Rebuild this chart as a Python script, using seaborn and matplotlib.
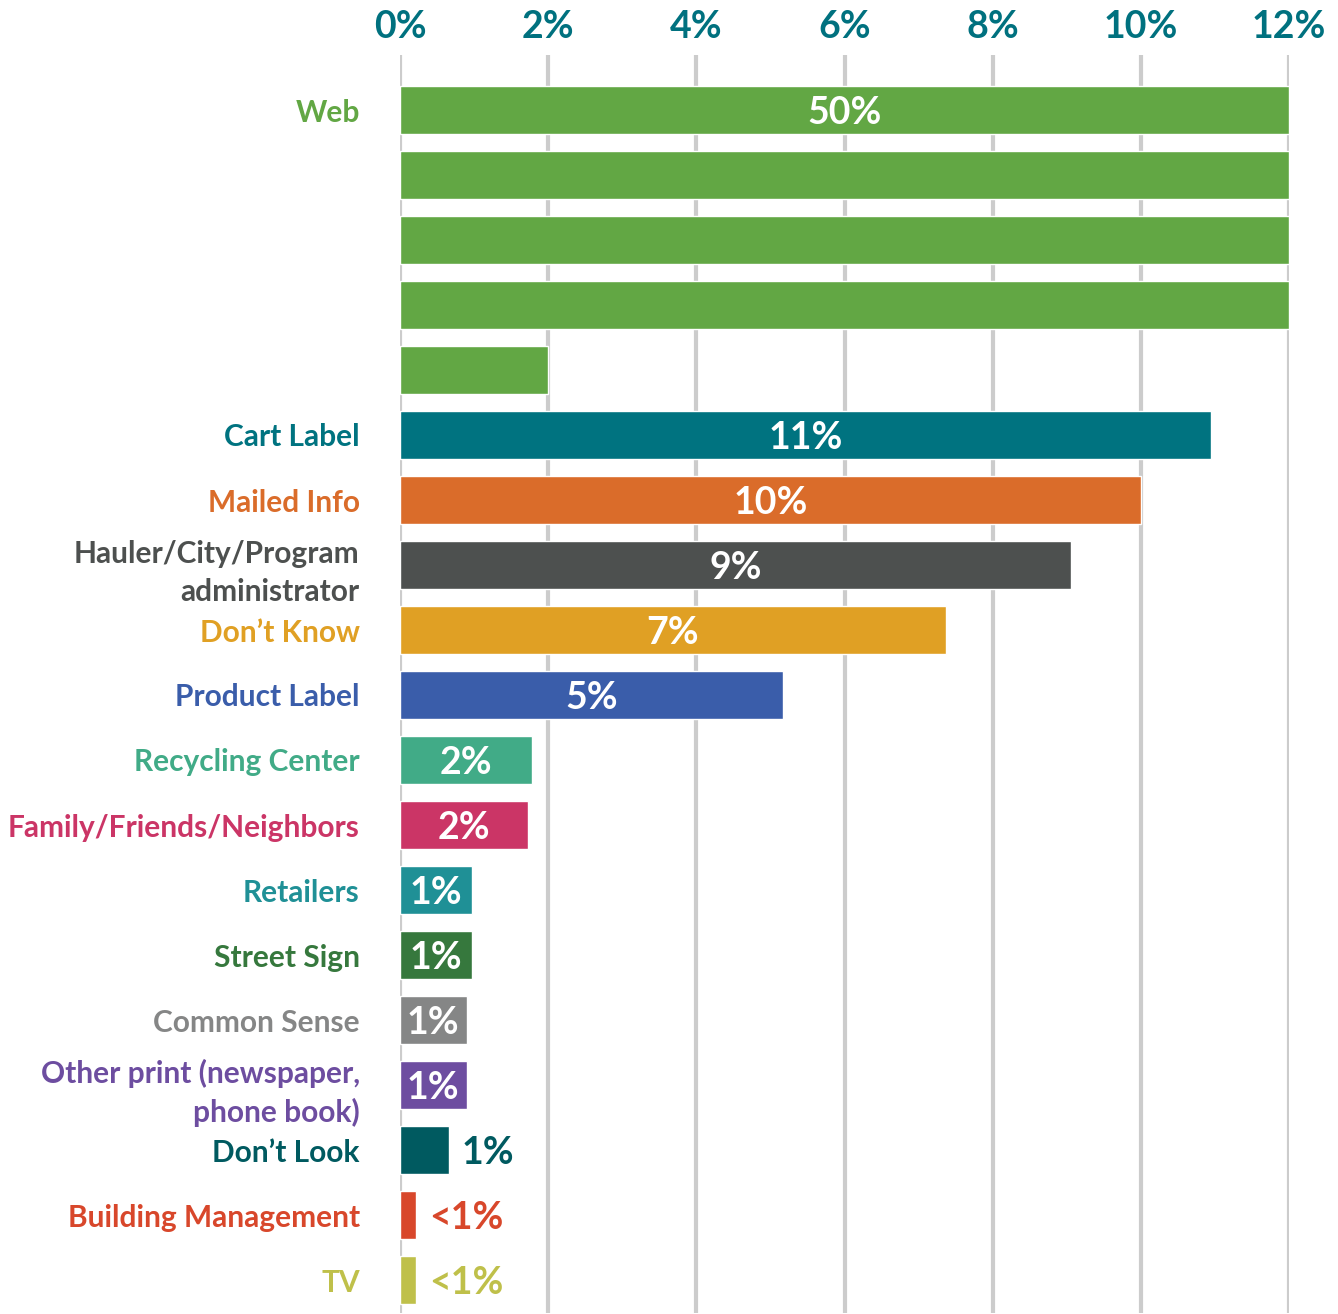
import matplotlib
matplotlib.use("Agg")
import matplotlib.pyplot as plt
import seaborn as sns
import pandas as pd

# ---- data ----
categories = ["Web", "Cart Label", "Mailed Info", "Hauler/City/Program\nadministrator",
              "Don\u2019t Know", "Product Label", "Recycling Center", "Family/Friends/Neighbors",
              "Retailers", "Street Sign", "Common Sense", "Other print (newspaper,\nphone book)",
              "Don\u2019t Look", "Building Management", "TV"]
values = [50, 10.95, 10.0, 9.06, 7.37, 5.17, 1.78, 1.73, 0.97, 0.97, 0.90, 0.90, 0.66, 0.22, 0.22]
value_labels = ["50%", "11%", "10%", "9%", "7%", "5%", "2%", "2%", "1%", "1%", "1%", "1%",
                "1%", "<1%", "<1%"]
colors = ["#62A744", "#007380", "#DA6C2A", "#4D504F", "#E0A024", "#3A5DAA", "#41AB87",
          "#CB3566", "#1F9096", "#36783D", "#858686", "#6D4DA0", "#005A60", "#D8472B", "#BFC04A"]
x_ticks = [0, 2, 4, 6, 8, 10, 12]
x_tick_labels = ["0%", "2%", "4%", "6%", "8%", "10%", "12%"]
axis_max = 12

# ---- build rows (values exceeding the axis wrap onto extra rows) ----
keys, labels, vals, cols = [], [], [], []
label_rows = []
for cat, v, c in zip(categories, values, colors):
    remaining = v
    k = 0
    while remaining > 0:
        seg = min(axis_max, remaining)
        if k == 0:
            label_rows.append(len(keys))
        keys.append(f"{cat}#{k}")
        labels.append(cat if k == 0 else "")
        vals.append(seg)
        cols.append(c)
        remaining -= seg
        k += 1

df = pd.DataFrame({"row": keys, "value": vals})
palette = dict(zip(keys, cols))

sns.set_theme(style="white")
plt.rcParams["font.family"] = ["Lato", "DejaVu Sans"]

fig = plt.figure(figsize=(13.38, 13.14), dpi=100)
ax = fig.add_axes([400 / 1338, 1 - 1312.5 / 1314, 889 / 1338, (1312.5 - 54.75) / 1314])

sns.barplot(data=df, x="value", y="row", hue="row", palette=palette, legend=False,
            width=0.73, saturation=1, ax=ax, order=keys, hue_order=keys)

ax.set_xlim(0, axis_max)
ax.set_ylim(len(keys) - 0.5, -0.85)
ax.set_axisbelow(True)
ax.xaxis.grid(True, color="#CCCCCC", linewidth=3)
ax.yaxis.grid(False)
for s in ax.spines.values():
    s.set_visible(False)

ax.xaxis.tick_top()
ax.set_xticks(x_ticks)
ax.set_xticklabels(x_tick_labels, fontsize=27, fontweight="bold", color="#00717F")
ax.tick_params(axis="x", length=0, pad=8)
ax.set_xlabel("")
ax.set_ylabel("")

ax.set_yticks(range(len(keys)))
ax.set_yticklabels(labels, fontsize=21.5, fontweight="bold", linespacing=1.45)
ax.tick_params(axis="y", length=0, pad=29)
for tl, c in zip(ax.get_yticklabels(), cols):
    tl.set_color(c)
    tl.set_horizontalalignment("right")

# value labels
for r, v, c, lab in zip(label_rows, values, colors, value_labels):
    seg = min(axis_max, v)
    if v >= 0.85:
        ax.text(seg / 2, r, lab, ha="center", va="center_baseline", color="white",
                fontsize=27, fontweight="bold")
    else:
        ax.text(seg + 0.17, r, lab, ha="left", va="center_baseline", color=c,
                fontsize=27, fontweight="bold")

fig.savefig("out.png", dpi=100)
